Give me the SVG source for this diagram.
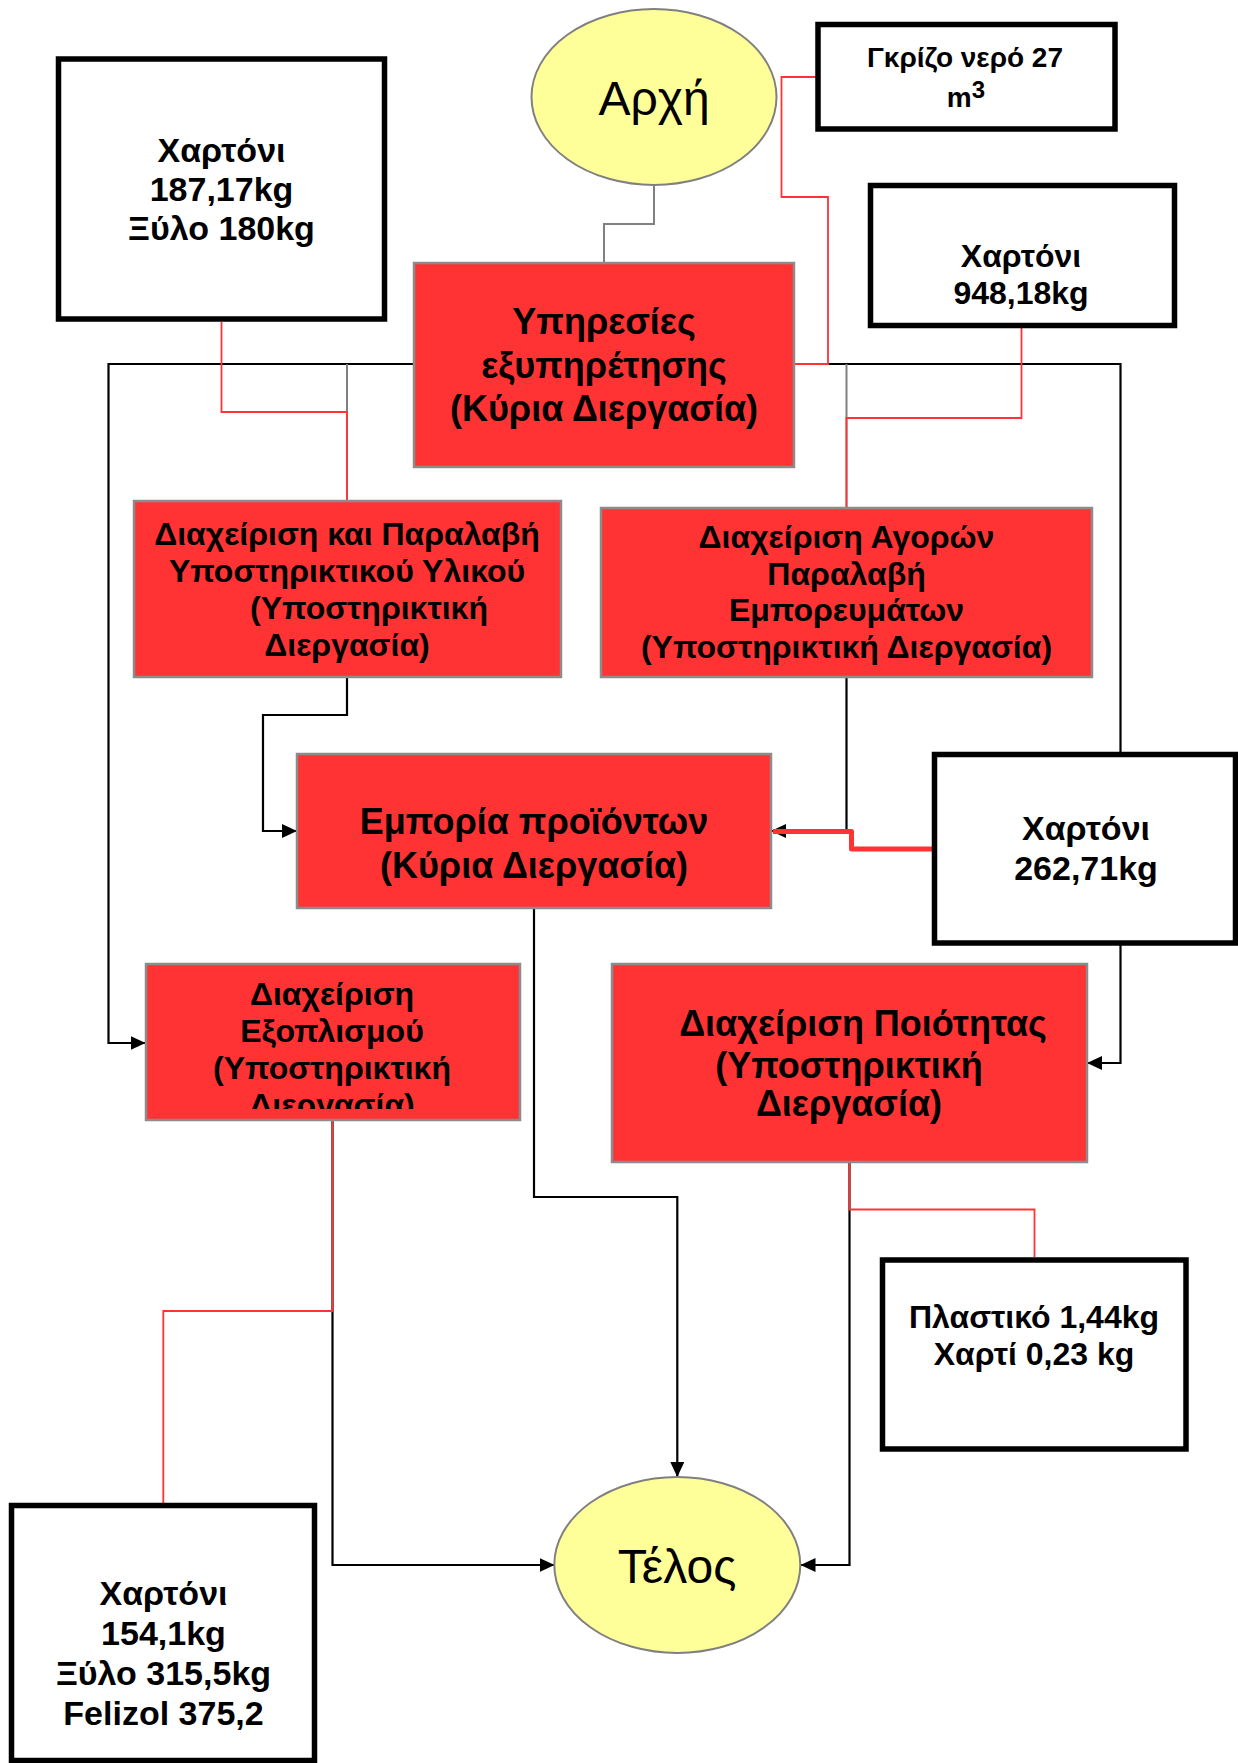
<svg xmlns="http://www.w3.org/2000/svg" width="1238" height="1763" viewBox="0 0 1238 1763">
  <style>
    .proc { fill: #FF3333; stroke: #8c8c8c; stroke-width: 2.5; }
    .term { fill: #FFFF99; stroke: #808080; stroke-width: 2; }
    .waste { fill: #FFFFFF; stroke: #000000; stroke-width: 5.5; }
    .lbl { font-family: "Liberation Sans", Arial, sans-serif; font-weight: bold; fill: #000; text-anchor: middle; }
    .term-lbl { font-family: "Liberation Sans", Arial, sans-serif; font-weight: normal; fill: #000; text-anchor: middle; font-size: 48px; }
    .flow { fill: none; stroke: #000; stroke-width: 2.2; }
    .flow-grey { fill: none; stroke: #808080; stroke-width: 2; }
    .waste-flow { fill: none; stroke: #FF3333; stroke-width: 1.8; }
    .waste-flow-bold { fill: none; stroke: #FF3333; stroke-width: 5; stroke-linejoin: round; }
  </style>
  <defs>
    <marker id="arrow" markerUnits="userSpaceOnUse" markerWidth="16" markerHeight="14" refX="15" refY="7" orient="auto">
      <path d="M0,0 L15,7 L0,14 z" fill="#000"/>
    </marker>
    <clipPath id="clip-equipment">
      <rect x="146" y="965" width="374" height="144"/>
    </clipPath>
  </defs>

  <rect width="1238" height="1763" fill="#FFFFFF"/>

  <!-- connectors -->
  <g id="connectors">
    <path class="flow-grey" d="M654,185 V224 H604 V263"/>
    <path class="flow" d="M414,364 H108.5 V1043 H145.5" marker-end="url(#arrow)"/>
    <path class="flow" d="M794,364 H1120.5 V1063 H1087" marker-end="url(#arrow)"/>
    <path class="flow-grey" d="M347,364 V501"/>
    <path class="flow-grey" d="M846.5,364 V508"/>
    <path class="flow" d="M347,677 V715 H263 V831 H297" marker-end="url(#arrow)"/>
    <path class="flow" d="M846.5,677 V831 H771" marker-end="url(#arrow)"/>
    <path class="flow" d="M534,908 V1197 H677.3 V1477" marker-end="url(#arrow)"/>
    <path class="flow" d="M332.5,1120 V1565 H554.5" marker-end="url(#arrow)"/>
    <path class="flow" d="M849.5,1162 V1565 H800.5" marker-end="url(#arrow)"/>

    <!-- waste outflows -->
    <path class="waste-flow" d="M818,77 H781.5 V197 H828 V364 H794"/>
    <path class="waste-flow" d="M221.5,322 V412 H347 V501"/>
    <path class="waste-flow" d="M1021.5,326 V418 H846.5 V508"/>
    <path class="waste-flow-bold" d="M934,849 H851.5 V831.5 H773"/>
    <path class="waste-flow" d="M332.5,1120 V1311 H163.3 V1503"/>
    <path class="waste-flow" d="M849.5,1162 V1209.5 H1034.5 V1257"/>
  </g>

  <!-- start -->
  <g id="start">
    <ellipse class="term" cx="654" cy="97" rx="122.5" ry="88"/>
    <text class="term-lbl" x="654" y="115">Αρχή</text>
  </g>

  <!-- end -->
  <g id="end">
    <ellipse class="term" cx="677.3" cy="1565" rx="123" ry="88"/>
    <text class="term-lbl" x="677" y="1583">Τέλος</text>
  </g>

  <!-- main process: customer services -->
  <g id="services">
    <rect class="proc" x="414" y="263" width="380" height="204"/>
    <text class="lbl" font-size="36" x="604" y="334">Υπηρεσίες</text>
    <text class="lbl" font-size="36" x="604" y="378">εξυπηρέτησης</text>
    <text class="lbl" font-size="36" x="604" y="421">(Κύρια Διεργασία)</text>
  </g>

  <!-- support: supplies handling -->
  <g id="supplies">
    <rect class="proc" x="134" y="501" width="427" height="176"/>
    <text class="lbl" font-size="32" x="347" y="545">Διαχείριση και Παραλαβή</text>
    <text class="lbl" font-size="32" x="347" y="582">Υποστηρικτικού Υλικού</text>
    <text class="lbl" font-size="32" x="369" y="619">(Υποστηρικτική</text>
    <text class="lbl" font-size="32" x="347" y="656">Διεργασία)</text>
  </g>

  <!-- support: purchasing -->
  <g id="purchasing">
    <rect class="proc" x="601" y="508" width="491" height="169"/>
    <text class="lbl" font-size="32" x="846.5" y="548">Διαχείριση Αγορών</text>
    <text class="lbl" font-size="32" x="846.5" y="585">Παραλαβή</text>
    <text class="lbl" font-size="32" x="846.5" y="621">Εμπορευμάτων</text>
    <text class="lbl" font-size="32" x="846.5" y="658">(Υποστηρικτική Διεργασία)</text>
  </g>

  <!-- main process: trading -->
  <g id="trading">
    <rect class="proc" x="297" y="754" width="474" height="154"/>
    <text class="lbl" font-size="36" x="534" y="834">Εμπορία προϊόντων</text>
    <text class="lbl" font-size="36" x="534" y="878">(Κύρια Διεργασία)</text>
  </g>

  <!-- support: equipment -->
  <g id="equipment">
    <rect class="proc" x="146" y="964" width="374" height="156"/>
    <g clip-path="url(#clip-equipment)">
      <text class="lbl" font-size="32" x="332" y="1005">Διαχείριση</text>
      <text class="lbl" font-size="32" x="332" y="1042">Εξοπλισμού</text>
      <text class="lbl" font-size="32" x="332" y="1079">(Υποστηρικτική</text>
      <text class="lbl" font-size="32" x="332" y="1116">Διεργασία)</text>
    </g>
  </g>

  <!-- support: quality -->
  <g id="quality">
    <rect class="proc" x="612" y="964" width="475" height="198"/>
    <text class="lbl" font-size="36" x="863" y="1036">Διαχείριση Ποιότητας</text>
    <text class="lbl" font-size="36" x="849" y="1078">(Υποστηρικτική</text>
    <text class="lbl" font-size="36" x="849" y="1116">Διεργασία)</text>
  </g>

  <!-- outputs -->
  <g id="waste-supplies">
    <rect class="waste" x="58.5" y="59" width="326" height="260"/>
    <text class="lbl" font-size="34" x="221.5" y="162">Χαρτόνι</text>
    <text class="lbl" font-size="34" x="221.5" y="201">187,17kg</text>
    <text class="lbl" font-size="34" x="221.5" y="240">Ξύλο 180kg</text>
  </g>

  <g id="waste-water">
    <rect class="waste" x="818" y="24.5" width="297" height="104.5"/>
    <text class="lbl" font-size="28" x="965" y="67">Γκρίζο νερό 27</text>
    <text class="lbl" font-size="28" x="966" y="107">m<tspan font-size="24" dy="-9">3</tspan></text>
  </g>

  <g id="waste-purchasing">
    <rect class="waste" x="870.5" y="185.5" width="304" height="140"/>
    <text class="lbl" font-size="32" x="1021" y="267">Χαρτόνι</text>
    <text class="lbl" font-size="32" x="1021" y="304">948,18kg</text>
  </g>

  <g id="waste-trading">
    <rect class="waste" x="934.5" y="754.5" width="301" height="188.5"/>
    <text class="lbl" font-size="34" x="1086" y="840">Χαρτόνι</text>
    <text class="lbl" font-size="34" x="1086" y="880">262,71kg</text>
  </g>

  <g id="waste-quality">
    <rect class="waste" x="882.5" y="1260" width="303.5" height="189"/>
    <text class="lbl" font-size="32" x="1034" y="1328">Πλαστικό 1,44kg</text>
    <text class="lbl" font-size="32" x="1034" y="1365">Χαρτί 0,23 kg</text>
  </g>

  <g id="waste-equipment">
    <rect class="waste" x="11.5" y="1505.5" width="303" height="255"/>
    <text class="lbl" font-size="34" x="163.5" y="1605">Χαρτόνι</text>
    <text class="lbl" font-size="34" x="163.5" y="1645">154,1kg</text>
    <text class="lbl" font-size="34" x="163.5" y="1685">Ξύλο 315,5kg</text>
    <text class="lbl" font-size="34" x="163.5" y="1725">Felizol 375,2</text>
  </g>
</svg>
